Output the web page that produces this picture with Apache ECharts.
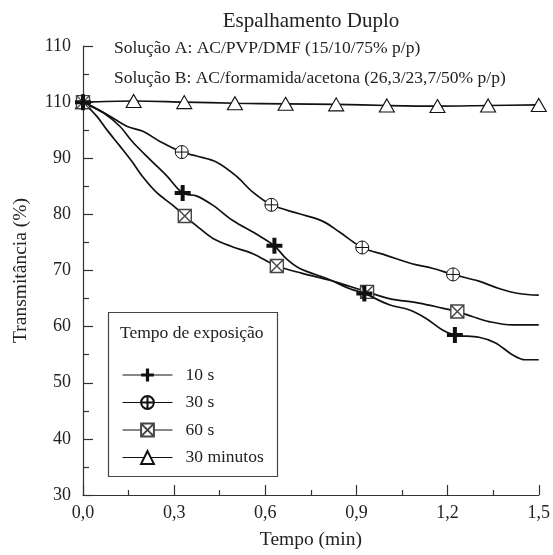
<!DOCTYPE html>
<html>
<head>
<meta charset="utf-8">
<script src="https://cdn.jsdelivr.net/npm/echarts@6/dist/echarts.min.js"></script>
<style>html,body{margin:0;padding:0;background:#fff}#c{width:553px;height:555px}</style>
</head>
<body>
<div id="c"></div>
<script>
// ---- data ----
const seriesNames = ['10 s', '30 s', '60 s', '30 minutos'];

const t10 = [0, 0.067, 0.121, 0.165, 0.22, 0.275, 0.328, 0.373, 0.428, 0.493, 0.57, 0.63, 0.669, 0.712, 0.81, 0.876, 0.926, 1.008, 1.073, 1.128, 1.183, 1.224, 1.303, 1.358, 1.413, 1.456, 1.5];
const v10 = [100, 98.1, 95.7, 92.8, 89.8, 86.9, 83.8, 83.3, 81.6, 78.9, 76.5, 74.4, 72.1, 70.4, 68.4, 66.8, 65.9, 63.9, 63.0, 61.5, 59.4, 58.5, 58.1, 57.1, 55.0, 54.1, 54.1];
const m10 = [0, 6, 11, 16, 21];

const t30 = [0, 0.079, 0.144, 0.197, 0.253, 0.325, 0.374, 0.44, 0.505, 0.558, 0.62, 0.712, 0.788, 0.843, 0.919, 0.998, 1.083, 1.149, 1.218, 1.303, 1.369, 1.434, 1.5];
const v30 = [100, 97.8, 95.7, 94.8, 93.0, 91.1, 90.4, 89.3, 86.8, 84.0, 81.7, 80.1, 78.8, 76.9, 74.1, 72.7, 71.2, 70.4, 69.3, 68.1, 66.8, 65.9, 65.6];
const m30 = [0, 5, 10, 14, 18];

const t60 = [0, 0.045, 0.078, 0.121, 0.16, 0.198, 0.242, 0.296, 0.335, 0.373, 0.428, 0.493, 0.559, 0.638, 0.722, 0.81, 0.865, 0.935, 1.008, 1.106, 1.183, 1.232, 1.281, 1.336, 1.413, 1.5];
const v60 = [100, 97.5, 95.1, 92.2, 89.5, 86.6, 83.9, 81.6, 79.7, 78.0, 75.7, 74.2, 73.0, 70.8, 69.5, 68.3, 67.4, 66.2, 65.0, 64.2, 63.3, 62.7, 61.8, 60.9, 60.3, 60.3];
const m60 = [0, 8, 13, 17, 21];

const t30m = [0, 0.1667, 0.3333, 0.5, 0.6667, 0.8333, 1.0, 1.1667, 1.3333, 1.5];
const v30m = [100, 100.2, 100.0, 99.8, 99.7, 99.6, 99.4, 99.3, 99.4, 99.5];
const m30m = [0, 1, 2, 3, 4, 5, 6, 7, 8, 9];

const yTickLabels = {30:'30', 40:'40', 50:'50', 60:'60', 70:'70', 80:'80', 90:'90', 100:'110', 110:'110'};

// ---- build ----
function build(t, v, marks) {
  return t.map((x, i) => marks.indexOf(i) >= 0 ? {value: [x, v[i]]} : {value: [x, v[i]], symbol: 'none'});
}

const FONT = '"Liberation Serif", "DejaVu Serif", serif';
const TXT = '#222';

const symPlus = 'path://M6,0H10V6H16V10H10V16H6V10H0V6H6Z';
const symCirclePlus = 'path://M10,0A10,10,0,1,1,10,20A10,10,0,1,1,10,0ZM10,0V20M0,10H20';
const symSquareX = 'path://M0,0H20V20H0ZM0,0L20,20M20,0L0,20';

const lineStyle = {color: '#111', width: 1.7};

const chart = echarts.init(document.getElementById('c'), null, {renderer: 'canvas'});
chart.setOption({
  animation: false,
  backgroundColor: '#fff',
  grid: {left: 83, right: 13, top: 46, bottom: 57},
  xAxis: {
    type: 'value', min: 0, max: 1.5, interval: 0.3,
    axisLine: {lineStyle: {color: '#333', width: 1.2}},
    axisTick: {inside: true, length: 10, lineStyle: {color: '#333', width: 1.2}},
    minorTick: {show: true, splitNumber: 2, length: 5, lineStyle: {color: '#333', width: 1.2}},
    splitLine: {show: false},
    axisLabel: {margin: 9, color: TXT, fontFamily: FONT, fontSize: 18,
      formatter: v => v.toFixed(1).replace('.', ',')},
    name: 'Tempo (min)', nameLocation: 'middle', nameGap: 35,
    nameTextStyle: {color: TXT, fontFamily: FONT, fontSize: 19.5}
  },
  yAxis: {
    type: 'value', min: 30, max: 110, interval: 10,
    axisLine: {show: true, lineStyle: {color: '#333', width: 1.2}},
    axisTick: {show: true, inside: true, length: 10, lineStyle: {color: '#333', width: 1.2}},
    minorTick: {show: true, splitNumber: 2, length: 6, lineStyle: {color: '#333', width: 1.2}},
    splitLine: {show: false},
    axisLabel: {margin: 12, color: TXT, fontFamily: FONT, fontSize: 18,
      formatter: v => yTickLabels[Math.round(v)] || ''},
    name: 'Transmitância (%)', nameLocation: 'middle', nameGap: 52,
    nameTextStyle: {color: TXT, fontFamily: FONT, fontSize: 19.5}
  },
  legend: {
    show: true, orient: 'vertical', left: 122, top: 366, padding: 0,
    itemWidth: 50, itemHeight: 16, itemGap: 9.5,
    data: seriesNames,
    lineStyle: {width: 1},
    textStyle: {color: TXT, fontFamily: FONT, fontSize: 17.5, padding: [0, 0, 0, 8]}
  },
  graphic: [
    {type: 'text', x: 311, y: 21, style: {text: 'Espalhamento Duplo', font: '21px ' + FONT, fill: TXT, textAlign: 'center', textVerticalAlign: 'middle'}},
    {type: 'text', x: 114, y: 48, style: {text: 'Solução A: AC/PVP/DMF (15/10/75% p/p)', font: '17.5px ' + FONT, fill: TXT, textVerticalAlign: 'middle'}},
    {type: 'text', x: 114, y: 78, style: {text: 'Solução B: AC/formamida/acetona (26,3/23,7/50% p/p)', font: '17.5px ' + FONT, fill: TXT, textVerticalAlign: 'middle'}},
    {type: 'rect', shape: {x: 108.5, y: 312.5, width: 169, height: 164}, style: {fill: 'none', stroke: '#444', lineWidth: 1.2}, z: 10},
    {type: 'text', x: 120, y: 333, style: {text: 'Tempo de exposição', font: '17.5px ' + FONT, fill: TXT, textVerticalAlign: 'middle'}, z: 10}
  ],
  series: [
    {name: seriesNames[0], type: 'line', smooth: 0.35, data: build(t10, v10, m10),
      symbol: symPlus, symbolSize: 16, lineStyle: lineStyle,
      itemStyle: {color: '#111', borderWidth: 0}, z: 4},
    {name: seriesNames[1], type: 'line', smooth: 0.35, data: build(t30, v30, m30),
      symbol: symCirclePlus, symbolSize: 13, lineStyle: lineStyle,
      itemStyle: {color: '#fff', borderColor: '#111', borderWidth: 1}, z: 3},
    {name: seriesNames[2], type: 'line', smooth: 0.35, data: build(t60, v60, m60),
      symbol: symSquareX, symbolSize: 13, lineStyle: lineStyle,
      itemStyle: {color: '#fff', borderColor: '#444', borderWidth: 1.4}, z: 3},
    {name: seriesNames[3], type: 'line', smooth: 0.35, data: build(t30m, v30m, m30m),
      symbol: 'triangle', symbolSize: [15, 13], lineStyle: lineStyle,
      itemStyle: {color: '#fff', borderColor: '#111', borderWidth: 1.1}, z: 2}
  ]
});
</script>
</body>
</html>
